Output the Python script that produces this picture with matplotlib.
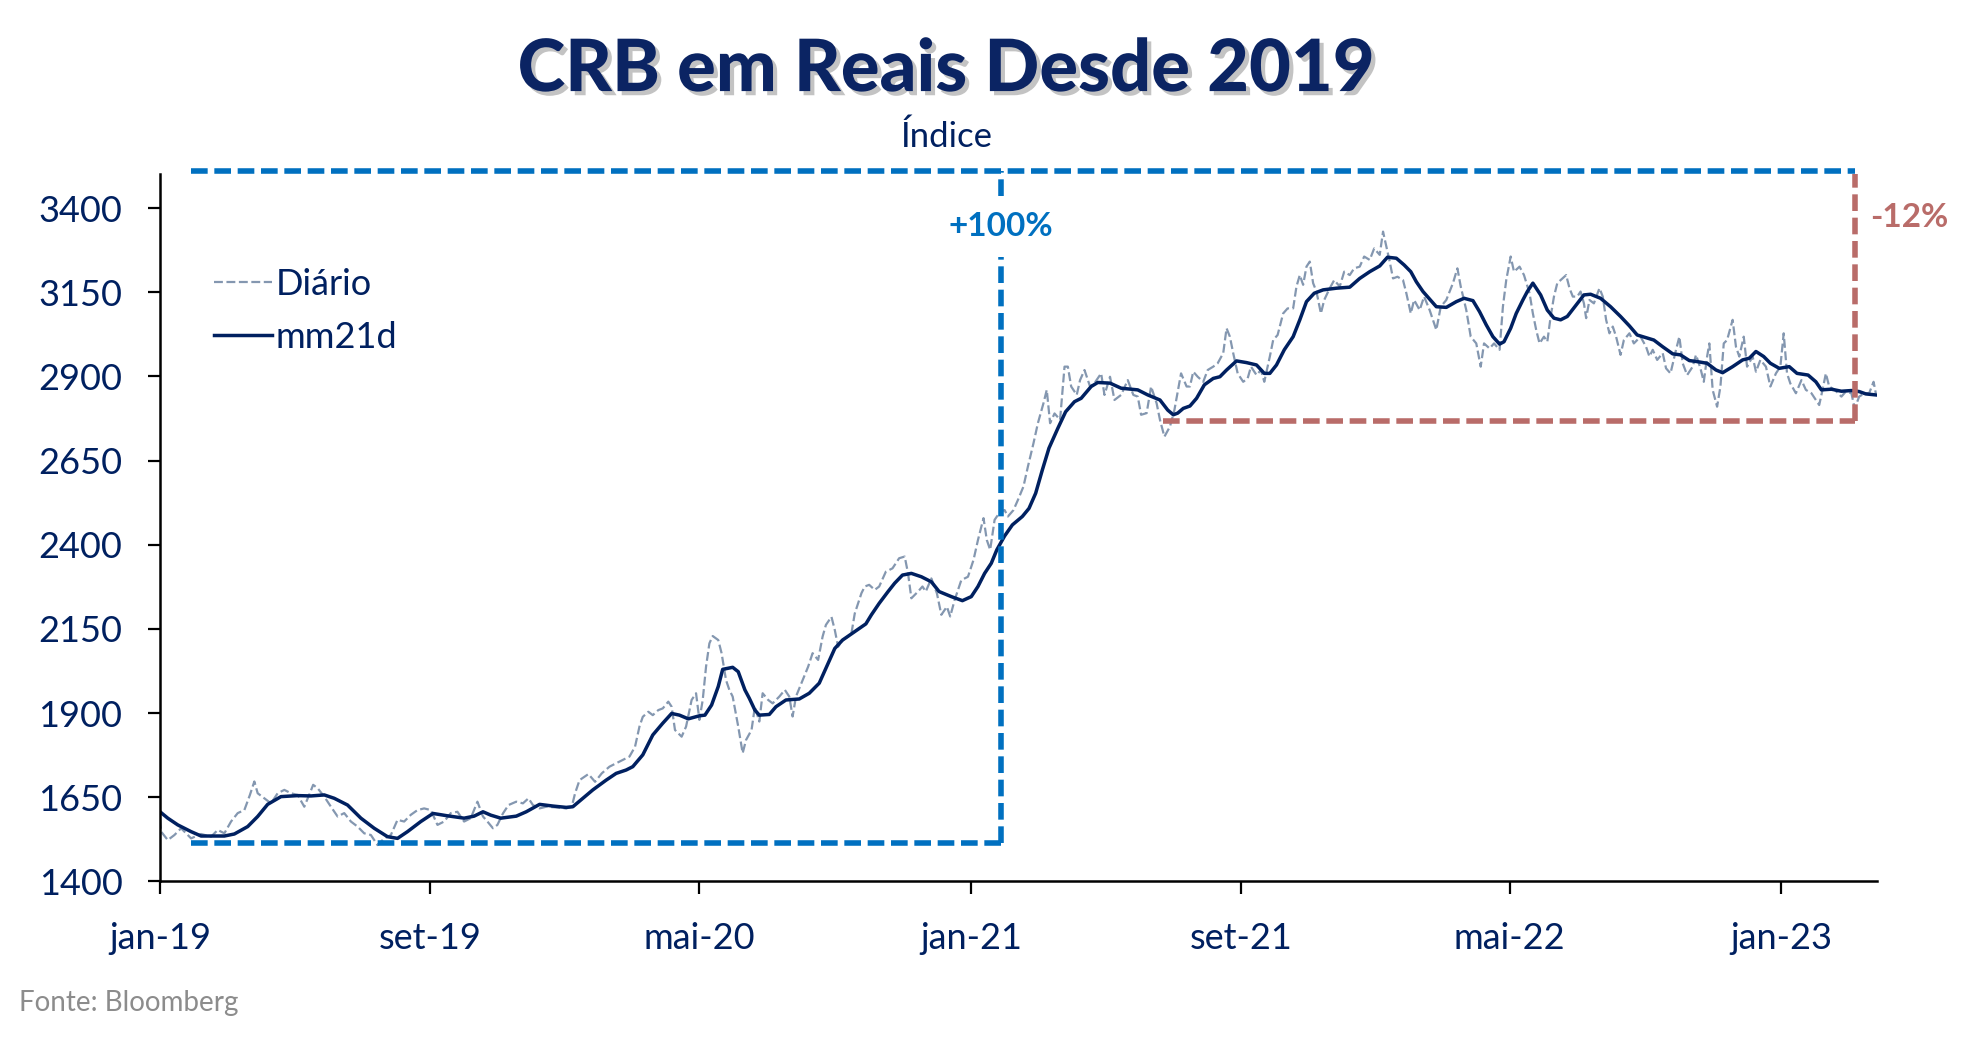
import pandas as pd
import matplotlib.pyplot as plt
import matplotlib.patheffects as pe

plt.rcParams['font.family'] = ['Lato', 'DejaVu Sans']

# Data (days since 2019-01-01, index value)
inicio = pd.Timestamp('2019-01-01')

diario_dias = [
    0, 1, 7, 13, 19, 28, 37, 46, 52, 58, 64, 70, 76, 81, 85, 88, 94, 100, 106, 112,
    118, 124, 130, 135, 138, 142, 148, 154, 160, 166, 172, 178, 184, 190, 196, 202, 208, 214, 220, 226,
    232, 238, 244, 250, 256, 262, 268, 274, 280, 286, 291, 295, 300, 304, 309, 314, 321, 327, 332, 336,
    342, 348, 357, 366, 371, 374, 378, 386, 392, 398, 405, 411, 417, 423, 428, 432, 435, 440, 444, 449,
    453, 458, 461, 464, 470, 474, 479, 483, 486, 489, 492, 495, 498, 503, 506, 510, 513, 516, 521, 525,
    528, 533, 536, 540, 543, 548, 552, 558, 563, 567, 570, 573, 579, 584, 588, 593, 597, 600, 605, 608,
    611, 615, 620, 623, 626, 632, 635, 639, 644, 648, 654, 660, 666, 671, 674, 677, 683, 687, 690, 695,
    700, 704, 709, 712, 716, 722, 728, 733, 737, 742, 745, 748, 752, 757, 761, 764, 769, 773, 778, 782,
    787, 791, 796, 799, 802, 806, 811, 815, 818, 821, 826, 829, 833, 838, 842, 848, 851, 856, 860, 866,
    872, 877, 881, 884, 889, 893, 898, 901, 905, 910, 914, 920, 925, 928, 931, 935, 940, 944, 949, 953,
    958, 961, 964, 967, 971, 976, 980, 983, 988, 992, 995, 1000, 1003, 1007, 1012, 1016, 1021, 1024, 1027, 1030,
    1033, 1036, 1039, 1042, 1046, 1049, 1054, 1058, 1063, 1067, 1072, 1076, 1081, 1085, 1090, 1094, 1099, 1102, 1105, 1108,
    1111, 1115, 1120, 1123, 1127, 1130, 1135, 1139, 1144, 1150, 1154, 1159, 1165, 1169, 1172, 1177, 1181, 1186, 1190, 1193,
    1198, 1202, 1207, 1210, 1213, 1217, 1220, 1225, 1229, 1234, 1237, 1240, 1243, 1247, 1250, 1253, 1256, 1259, 1262, 1267,
    1270, 1273, 1277, 1280, 1283, 1285, 1288, 1292, 1297, 1300, 1303, 1306, 1309, 1312, 1316, 1319, 1324, 1328, 1334, 1339,
    1342, 1345, 1349, 1354, 1357, 1361, 1366, 1369, 1372, 1376, 1381, 1384, 1388, 1391, 1394, 1396, 1399, 1403, 1406, 1409,
    1412, 1417, 1420, 1423, 1427, 1430, 1435, 1438, 1442, 1447, 1451, 1456, 1460, 1463, 1466, 1469, 1474, 1479, 1483, 1488,
    1492, 1495, 1498, 1501, 1504, 1509, 1515, 1519, 1524, 1527, 1531, 1536, 1540, 1544, 1546,
]
diario_valores = [
    1583, 1548, 1523, 1538, 1558, 1528, 1541, 1533, 1553, 1543, 1578, 1603, 1612, 1657, 1697, 1662, 1647, 1632, 1662, 1672,
    1662, 1657, 1622, 1662, 1687, 1677, 1652, 1622, 1593, 1603, 1578, 1563, 1543, 1538, 1508, 1528, 1538, 1583, 1578, 1598,
    1612, 1617, 1612, 1568, 1578, 1603, 1607, 1578, 1588, 1637, 1593, 1578, 1558, 1568, 1602, 1627, 1637, 1632, 1647, 1627,
    1617, 1622, 1620, 1617, 1622, 1662, 1701, 1719, 1696, 1721, 1741, 1751, 1761, 1771, 1800, 1860, 1889, 1904, 1894, 1909,
    1914, 1934, 1919, 1850, 1830, 1860, 1939, 1959, 1880, 1939, 2038, 2107, 2129, 2117, 2078, 1998, 1969, 1949, 1860, 1781,
    1820, 1850, 1919, 1875, 1959, 1939, 1929, 1949, 1969, 1949, 1890, 1949, 1998, 2038, 2078, 2058, 2127, 2162, 2186, 2147,
    2097, 2117, 2127, 2137, 2196, 2256, 2276, 2281, 2266, 2276, 2320, 2330, 2360, 2365, 2315, 2241, 2261, 2276, 2261, 2300,
    2256, 2192, 2216, 2187, 2236, 2295, 2305, 2355, 2414, 2479, 2414, 2385, 2474, 2498, 2503, 2484, 2503, 2533, 2573, 2632,
    2701, 2761, 2820, 2860, 2761, 2790, 2771, 2929, 2929, 2870, 2845, 2889, 2919, 2870, 2880, 2909, 2845, 2899, 2830, 2845,
    2889, 2845, 2840, 2786, 2791, 2870, 2820, 2771, 2721, 2751, 2800, 2909, 2870, 2870, 2914, 2899, 2884, 2919, 2929, 2939,
    2969, 3043, 3018, 2969, 2909, 2884, 2894, 2929, 2904, 2919, 2884, 2959, 3008, 3023, 3087, 3102, 3102, 3167, 3201, 3172,
    3226, 3241, 3177, 3152, 3087, 3127, 3162, 3186, 3167, 3211, 3201, 3221, 3226, 3256, 3246, 3280, 3261, 3330, 3285, 3241,
    3191, 3196, 3186, 3147, 3087, 3127, 3097, 3137, 3097, 3038, 3107, 3127, 3177, 3221, 3167, 3097, 3018, 2998, 2929, 2998,
    2983, 2998, 2979, 3107, 3186, 3256, 3211, 3226, 3201, 3147, 3087, 3038, 2998, 3018, 3003, 3077, 3137, 3177, 3186, 3201,
    3162, 3137, 3137, 3152, 3117, 3073, 3127, 3117, 3162, 3137, 3068, 3028, 3048, 3018, 2964, 3008, 3028, 2998, 3018, 2988,
    2959, 2979, 2949, 2969, 2924, 2909, 2979, 3018, 2939, 2904, 2929, 2964, 2924, 2884, 2959, 2998, 2860, 2810, 2870, 2998,
    3008, 3068, 2988, 2959, 3018, 2929, 2959, 2914, 2949, 2929, 2870, 2909, 2929, 3028, 2909, 2879, 2850, 2889, 2860, 2850,
    2830, 2815, 2860, 2909, 2870, 2860, 2840, 2855, 2850, 2805, 2840, 2850, 2850, 2884, 2850,
]

mm21_dias = [
    0, 7, 16, 28, 37, 58, 67, 79, 88, 97, 109, 124, 136, 148, 157, 169, 181, 193, 205, 214,
    223, 235, 246, 259, 274, 283, 291, 298, 307, 321, 330, 342, 354, 366, 372, 381, 390, 402, 411, 420,
    426, 435, 444, 453, 461, 468, 476, 486, 491, 497, 503, 507, 516, 521, 527, 531, 536, 540, 549, 555,
    564, 576, 585, 594, 602, 608, 615, 626, 636, 641, 648, 656, 662, 669, 677, 686, 695, 702, 713, 723,
    731, 737, 743, 749, 754, 761, 768, 777, 783, 789, 795, 801, 809, 816, 824, 830, 839, 845, 856, 866,
    881, 890, 901, 908, 913, 917, 922, 928, 934, 941, 949, 955, 961, 970, 979, 988, 995, 1000, 1006, 1013,
    1021, 1027, 1033, 1040, 1048, 1060, 1072, 1081, 1090, 1099, 1106, 1114, 1121, 1127, 1132, 1138, 1142, 1150, 1159, 1168,
    1175, 1183, 1189, 1195, 1201, 1207, 1211, 1217, 1222, 1228, 1232, 1237, 1244, 1250, 1256, 1262, 1268, 1276, 1283, 1289,
    1298, 1307, 1316, 1324, 1331, 1339, 1346, 1354, 1363, 1370, 1378, 1385, 1394, 1402, 1408, 1417, 1426, 1432, 1438, 1445,
    1451, 1459, 1468, 1475, 1485, 1492, 1497, 1506, 1515, 1524, 1531, 1537, 1546,
]
mm21_valores = [
    1607, 1588, 1568, 1548, 1535, 1535, 1541, 1563, 1593, 1629, 1652, 1655, 1654, 1657, 1647, 1627, 1588, 1558, 1533, 1528,
    1548, 1578, 1602, 1595, 1588, 1594, 1607, 1597, 1588, 1594, 1607, 1629, 1624, 1620, 1622, 1647, 1672, 1701, 1721, 1731,
    1741, 1776, 1835, 1870, 1899, 1894, 1883, 1892, 1894, 1924, 1979, 2030, 2036, 2023, 1969, 1944, 1909, 1894, 1896, 1919,
    1939, 1942, 1959, 1989, 2048, 2092, 2117, 2142, 2165, 2192, 2226, 2261, 2286, 2310, 2315, 2305, 2290, 2261, 2246, 2234,
    2246, 2276, 2315, 2345, 2385, 2426, 2459, 2484, 2508, 2553, 2622, 2687, 2746, 2795, 2825, 2835, 2870, 2882, 2880, 2865,
    2860, 2845, 2830, 2800, 2786, 2791, 2805, 2812, 2835, 2875, 2894, 2899, 2919, 2946, 2941, 2934, 2909, 2909, 2934, 2979,
    3018, 3068, 3122, 3147, 3157, 3162, 3165, 3191, 3211, 3228, 3254, 3251, 3231, 3211, 3181, 3152, 3137, 3107, 3105, 3122,
    3132, 3125, 3092, 3053, 3018, 2996, 3003, 3043, 3087, 3127, 3152, 3177, 3142, 3097, 3073, 3068, 3078, 3112, 3142, 3144,
    3132, 3107, 3078, 3050, 3023, 3015, 3008, 2988, 2967, 2964, 2947, 2944, 2939, 2919, 2911, 2929, 2949, 2954, 2974, 2959,
    2939, 2924, 2929, 2909, 2904, 2884, 2860, 2862, 2856, 2858, 2855, 2848, 2845,
]

tick_datas = ['2019-01-01', '2019-09-01', '2020-05-01', '2021-01-01', '2021-09-01', '2022-05-01', '2023-01-01']
tick_rotulos = ['jan-19', 'set-19', 'mai-20', 'jan-21', 'set-21', 'mai-22', 'jan-23']

# annotation boxes
azul_inicio, azul_meio, azul_fim = '2019-01-29', '2021-01-28', '2023-03-08'
azul_baixo, topo = 1513, 3510
verm_inicio, verm_baixo = '2021-06-23', 2769

azul = '#0070C0'
verm = '#B96C69'
marinho = '#002060'
cinza_azul = '#8497B0'

x_diario = inicio + pd.to_timedelta(diario_dias, unit='D')
x_mm21 = inicio + pd.to_timedelta(mm21_dias, unit='D')

fig = plt.figure(figsize=(19.73, 10.38), dpi=100)
ax = fig.add_axes([0.0811, 0.1508, 0.8702, 0.6812])

ax.plot(x_diario, diario_valores, color=cinza_azul, lw=1.6, dashes=(4, 1.6), label='Diário')
ax.plot(x_mm21, mm21_valores, color=marinho, lw=2.5, label='mm21d')

# +100% box (blue)
d = lambda s: pd.Timestamp(s)
kw_az = dict(color=azul, lw=4, dashes=(3, 1.2), clip_on=False)
ax.plot([d(azul_inicio), d(azul_meio)], [azul_baixo, azul_baixo], **kw_az)
ax.plot([d(azul_meio), d(azul_meio)], [azul_baixo, 3254], **kw_az)
ax.plot([d(azul_meio), d(azul_meio)], [3436, topo], **kw_az)
ax.plot([d(azul_inicio), d(azul_fim)], [topo, topo], **kw_az)
ax.text(d(azul_meio), 3346, '+100%', color=azul, fontsize=24, fontweight='bold',
        ha='center', va='center')

# -12% box (red)
kw_vm = dict(color=verm, lw=4, dashes=(3, 1.2), clip_on=False)
ax.plot([d(verm_inicio), d(azul_fim)], [verm_baixo, verm_baixo], **kw_vm)
ax.plot([d(azul_fim), d(azul_fim)], [verm_baixo, topo - 8], **kw_vm)
ax.text(d('2023-03-22'), 3372, '-12%', color=verm, fontsize=24, fontweight='bold',
        ha='left', va='center', clip_on=False)

ax.set_ylim(1400, 3500)
ax.set_yticks(range(1400, 3401, 250))
ax.set_xlim(inicio, inicio + pd.Timedelta(days=1547))
ax.set_xticks([pd.Timestamp(t) for t in tick_datas])
ax.set_xticklabels(tick_rotulos)

for s in ['top', 'right']:
    ax.spines[s].set_visible(False)
for s in ['left', 'bottom']:
    ax.spines[s].set_linewidth(1.8)
ax.tick_params(axis='both', direction='out', length=9, width=1.6, labelsize=26,
               labelcolor=marinho, color='black')
ax.tick_params(axis='x', pad=20)
ax.tick_params(axis='y', pad=18)

leg = ax.legend(loc='upper left', bbox_to_anchor=(214 / 1973, 1 - 268 / 1038),
                bbox_transform=fig.transFigure, frameon=False, fontsize=26,
                handlelength=1.6, handletextpad=0.1, labelspacing=0.55,
                borderpad=0, borderaxespad=0)
for t in leg.get_texts():
    t.set_color(marinho)

fig.text(0.4795, 0.932, 'CRB em Reais Desde 2019', ha='center', va='center',
         fontsize=52, fontweight='black', color='#0B2463',
         path_effects=[pe.SimplePatchShadow(offset=(3, -3), shadow_rgbFace='#888888', alpha=0.5),
                       pe.Normal()])
fig.text(0.4795, 0.868, 'Índice', ha='center', va='center', fontsize=25, color=marinho)
fig.text(0.0096, 0.034, 'Fonte: Bloomberg', ha='left', va='center', fontsize=20, color='#8C8C8C')

fig.savefig('out.png', dpi=100)
